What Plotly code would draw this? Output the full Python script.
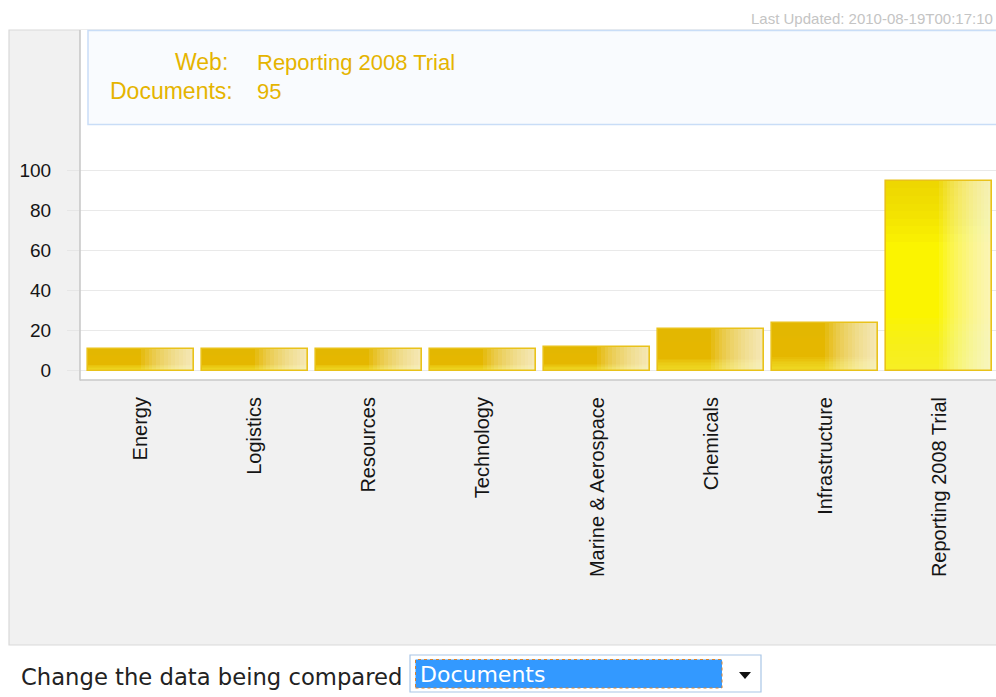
import plotly.graph_objects as go

# ---------------- data ----------------
categories = ["Energy", "Logistics", "Resources", "Technology",
              "Marine & Aerospace", "Chemicals", "Infrastructure",
              "Reporting 2008 Trial"]
documents = [11, 11, 11, 11, 12, 21, 24, 95]
y_ticks = [0, 20, 40, 60, 80, 100]
selected_web = "Reporting 2008 Trial"
measure = "Documents"
last_updated = "2010-08-19T00:17:10"
prompt_text = "Change the data being compared"

# ---------------- style ----------------
W, H = 996, 697
ML, MR, MT, MB = 80, 0, 30, 317
PLOT_W, PLOT_H = W - ML - MR, H - MT - MB
GOLD = "#e5b700"
YELLOW = "#fbf400"
EDGE = "#e9c21a"
GOLD_TXT = "#e5b400"
SANS = "Liberation Sans, Arial, sans-serif"
VERD = "DejaVu Sans, Verdana, sans-serif"
BAR_W = 0.93


def px(x):
    return (x - ML) / PLOT_W


def py(y):
    return (H - MB - y) / PLOT_H


sel_value = documents[categories.index(selected_web)]
base_colors = [YELLOW if c == selected_web else GOLD for c in categories]

fig = go.Figure()

# base fill
fig.add_trace(go.Bar(x=categories, y=documents, width=BAR_W,
                     marker=dict(color=base_colors, line_width=0),
                     hoverinfo="x+y", showlegend=False))

# vertical shading (nested translucent layers -> smooth gradient)
M = 8
for k in range(M):
    # gold tint from the top down
    top_frac = 0.04 * (k + 1)
    fig.add_trace(go.Bar(x=categories, y=[v * top_frac for v in documents],
                         base=[v * (1 - top_frac) for v in documents],
                         width=BAR_W,
                         marker=dict(color="rgba(232,190,20,0.07)", line_width=0),
                         hoverinfo="skip", showlegend=False))
    # yellow glow from the bottom up
    bot_frac = 0.035 * (k + 1)
    fig.add_trace(go.Bar(x=categories, y=[v * bot_frac for v in documents],
                         base=[0 for _ in documents],
                         width=BAR_W,
                         marker=dict(color="rgba(250,238,60,0.12)", line_width=0),
                         hoverinfo="skip", showlegend=False))

# right-half gloss (nested strips from the centre to the right edge)
N = 14
for k in range(N):
    fig.add_trace(go.Bar(x=categories, y=documents,
                         width=BAR_W / 2 * (1 - k / N),
                         offset=BAR_W / 2 * k / N,
                         marker=dict(color="rgba(255,255,255,0.085)",
                                     line_width=0),
                         hoverinfo="skip", showlegend=False))

# outline
fig.add_trace(go.Bar(x=categories, y=documents, width=BAR_W,
                     marker=dict(color="rgba(0,0,0,0)",
                                 line=dict(color=EDGE, width=1.6)),
                     hoverinfo="skip", showlegend=False))

shapes = [
    # gray panel
    dict(type="rect", xref="paper", yref="paper", layer="below",
         x0=px(9), x1=px(1000), y0=py(645), y1=py(30),
         fillcolor="#f1f1f1", line=dict(color="#d9d9d9", width=1.2)),
    # white plot area
    dict(type="rect", xref="paper", yref="paper", layer="below",
         x0=px(80), x1=px(1000), y0=py(380), y1=py(30),
         fillcolor="#ffffff", line=dict(width=0)),
    # plot area left & bottom edges
    dict(type="line", xref="paper", yref="paper", layer="above",
         x0=px(80), x1=px(80), y0=py(380.5), y1=py(30),
         line=dict(color="#c9c9c9", width=1.6)),
    dict(type="line", xref="paper", yref="paper", layer="above",
         x0=px(80), x1=px(1000), y0=py(380), y1=py(380),
         line=dict(color="#c9c9c9", width=1.6)),
    # info box
    dict(type="rect", xref="paper", yref="paper", layer="below",
         x0=px(88), x1=px(1002), y0=py(124.5), y1=py(30.5),
         fillcolor="#f9fbfe", line=dict(color="#c9ddf7", width=1.5)),
    # dropdown box
    dict(type="rect", xref="paper", yref="paper", layer="above",
         x0=px(410), x1=px(761), y0=py(692), y1=py(655),
         fillcolor="#ffffff", line=dict(color="#a9c6e6", width=1.2)),
    dict(type="rect", xref="paper", yref="paper", layer="above",
         x0=px(415.5), x1=px(722), y0=py(688), y1=py(659.5),
         fillcolor="#3399ff", line=dict(color="#d9822b", width=1, dash="dot")),
    dict(type="path", xref="paper", yref="paper", layer="above",
         path=f"M {px(739)},{py(672)} L {px(751)},{py(672)} L {px(745)},{py(679)} Z",
         fillcolor="#111111", line=dict(width=0)),
]

annotations = [
    dict(text=f"Last Updated: {last_updated}", xref="paper", yref="paper",
         x=px(995), y=py(18), xanchor="right", yanchor="middle", showarrow=False,
         font=dict(family=SANS, size=15, color="#c4c4c4")),
    dict(text="Web:", xref="paper", yref="paper", x=px(230), y=py(62),
         xanchor="right", yanchor="middle", showarrow=False,
         font=dict(family=SANS, size=23, color=GOLD_TXT)),
    dict(text=f"{measure}:", xref="paper", yref="paper", x=px(235), y=py(91),
         xanchor="right", yanchor="middle", showarrow=False,
         font=dict(family=SANS, size=23, color=GOLD_TXT)),
    dict(text=selected_web, xref="paper", yref="paper", x=px(255), y=py(62),
         xanchor="left", yanchor="middle", showarrow=False,
         font=dict(family=SANS, size=22, color=GOLD_TXT)),
    dict(text=str(sel_value), xref="paper", yref="paper", x=px(255), y=py(91),
         xanchor="left", yanchor="middle", showarrow=False,
         font=dict(family=SANS, size=22, color=GOLD_TXT)),
    dict(text=prompt_text, xref="paper", yref="paper", x=px(19), y=py(677),
         xanchor="left", yanchor="middle", showarrow=False,
         font=dict(family=VERD, size=22.7, color="#222222")),
    dict(text=measure, xref="paper", yref="paper", x=px(418), y=py(674),
         xanchor="left", yanchor="middle", showarrow=False,
         font=dict(family=VERD, size=22, color="#ffffff")),
]

fig.update_layout(
    width=W, height=H,
    margin=dict(l=ML, r=MR, t=MT, b=MB, pad=0),
    paper_bgcolor="#ffffff", plot_bgcolor="rgba(0,0,0,0)",
    barmode="overlay", bargap=0,
    shapes=shapes, annotations=annotations,
    xaxis=dict(type="category", range=[-0.535, 7.5], showgrid=False,
               zeroline=False, showline=False, ticks="",
               tickangle=-90, ticklabelstandoff=12,
               tickfont=dict(family=SANS, size=20, color="#151515")),
    yaxis=dict(range=[-4.65, 170.35], tickvals=y_ticks, showgrid=True,
               gridcolor="#e9e9e9", gridwidth=1, zeroline=False,
               showline=False, ticks="outside", ticklen=12,
               tickcolor="#e6e6e6", tickwidth=1, ticklabelstandoff=12,
               tickfont=dict(family=SANS, size=19, color="#151515")),
    showlegend=False,
)

fig.write_html("out.html",
               config={"displayModeBar": False},
               post_script="document.body.style.margin='0px';"
                           "document.body.style.overflow='hidden';")
